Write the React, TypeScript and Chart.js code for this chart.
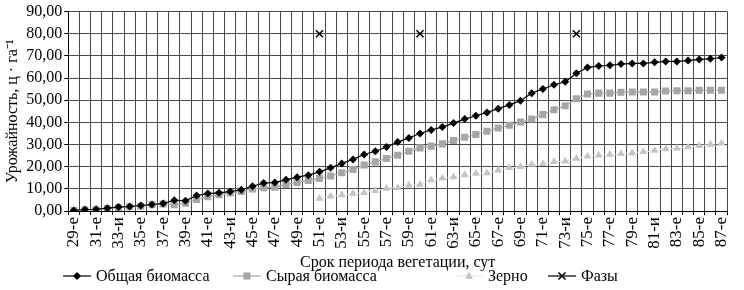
import React, { useEffect, useRef } from "react";
import { Chart, registerables } from "chart.js";

Chart.register(...registerables);

const days = Array.from({ length: 59 }, (_, i) => 29 + i);

const tickLabels = [
  "29-е", "31-е", "33-и", "35-е", "37-е", "39-е", "41-е", "43-и", "45-е", "47-е",
  "49-е", "51-е", "53-и", "55-е", "57-е", "59-е", "61-е", "63-и", "65-е", "67-е",
  "69-е", "71-е", "73-и", "75-е", "77-е", "79-е", "81-и", "83-е", "85-е", "87-е",
];

const totalBiomass = [
  0.3, 0.7, 0.8, 1.3, 1.8, 2.1, 2.5, 2.9, 3.4, 4.9,
  4.6, 7.0, 7.9, 8.2, 8.8, 9.6, 11.2, 12.6, 12.9, 14.1,
  15.3, 16.2, 17.7, 19.5, 21.5, 23.3, 25.5, 27.0, 28.9, 31.1,
  33.0, 35.0, 36.6, 37.9, 39.7, 41.5, 43.0, 44.5, 46.2, 47.9,
  49.8, 53.2, 55.1, 57.0, 58.3, 62.2, 64.8, 65.4, 65.8, 66.3,
  66.6, 66.6, 67.1, 67.5, 67.5, 67.9, 68.4, 68.7, 69.3,
];

const rawBiomass = [
  0.2, 0.5, 0.5, 1.1, 1.6, 1.9, 2.2, 2.8, 3.2, 2.9,
  3.5, 5.2, 6.5, 7.4, 8.2, 8.8, 10.0, 10.5, 10.8, 12.0,
  12.9, 13.8, 14.7, 15.8, 17.3, 18.8, 20.8, 22.2, 23.7, 25.2,
  27.0, 28.5, 29.3, 30.3, 31.8, 33.3, 34.5, 36.0, 37.5, 38.7,
  40.2, 41.5, 43.5, 45.7, 47.5, 50.7, 52.8, 53.2, 53.2, 53.6,
  53.7, 53.7, 53.7, 54.2, 54.3, 54.3, 54.5, 54.5, 54.5,
];

const grain = [
  null, null, null, null, null, null, null, null, null, null,
  null, null, null, null, null, null, null, null, null, null,
  null, null, 5.7, 6.7, 7.2, 7.9, 8.3, 9.2, 10.2, 10.5,
  11.6, 12.0, 14.0, 14.8, 15.4, 16.3, 16.9, 17.2, 18.4, 19.5,
  20.0, 21.0, 21.3, 22.2, 22.5, 23.7, 24.7, 25.2, 25.5, 25.8,
  26.2, 26.7, 27.3, 28.0, 28.3, 28.9, 29.5, 30.0, 30.6,
];

const phaseDays = [51, 60, 74];
const phaseValue = 80;
const phases = days.map((d) => (phaseDays.includes(d) ? phaseValue : null));

const yTicks = [0, 10, 20, 30, 40, 50, 60, 70, 80, 90];

const seriesNames = ["Общая биомасса", "Сырая биомасса", "Зерно", "Фазы"];
const xTitle = "Срок периода вегетации, сут";
const yTitle = "Урожайность, ц · га⁻¹";

const FONT = '"Liberation Serif", "Times New Roman", serif';

function drawMarker(ctx: CanvasRenderingContext2D, style: string, x: number, y: number, r: number, color: string) {
  ctx.save();
  ctx.fillStyle = color;
  ctx.strokeStyle = color;
  ctx.beginPath();
  if (style === "rectRot") {
    ctx.moveTo(x - r, y);
    ctx.lineTo(x, y - r);
    ctx.lineTo(x + r, y);
    ctx.lineTo(x, y + r);
    ctx.closePath();
    ctx.fill();
  } else if (style === "rect") {
    const s = r * Math.SQRT1_2;
    ctx.rect(x - s, y - s, 2 * s, 2 * s);
    ctx.fill();
  } else if (style === "triangle") {
    ctx.moveTo(x, y - r);
    ctx.lineTo(x + r * 0.9, y + r * 0.6);
    ctx.lineTo(x - r * 0.9, y + r * 0.6);
    ctx.closePath();
    ctx.fill();
  } else if (style === "crossRot") {
    const s = r * Math.SQRT1_2;
    ctx.lineWidth = 1.5;
    ctx.moveTo(x - s, y - s);
    ctx.lineTo(x + s, y + s);
    ctx.moveTo(x + s, y - s);
    ctx.lineTo(x - s, y + s);
    ctx.stroke();
  }
  ctx.restore();
}

const legendStarts = [63, 233, 455, 548];

const customLegend = {
  id: "customLegend",
  afterDraw(chart: any) {
    const ctx: CanvasRenderingContext2D = chart.ctx;
    const y = chart.height - 14;
    ctx.save();
    ctx.font = `16px ${FONT}`;
    ctx.textBaseline = "middle";
    ctx.textAlign = "left";
    chart.data.datasets.forEach((ds: any, i: number) => {
      const x0 = legendStarts[i];
      const len = 28;
      if (ds.legendLine) {
        ctx.save();
        ctx.strokeStyle = ds.legendLine;
        ctx.lineWidth = 1.2;
        ctx.beginPath();
        ctx.moveTo(x0, y);
        ctx.lineTo(x0 + len, y);
        ctx.stroke();
        ctx.restore();
      }
      drawMarker(ctx, ds.pointStyle, x0 + len / 2, y, ds.pointRadius, ds.pointBackgroundColor);
      ctx.fillStyle = "#000";
      ctx.fillText(ds.label, x0 + len + 5, y + 1);
    });
    ctx.restore();
  },
};

export default function App() {
  const ref = useRef<HTMLCanvasElement | null>(null);

  useEffect(() => {
    document.body.style.margin = "0";
    const canvas = ref.current;
    if (!canvas) return;
    Chart.defaults.font.family = FONT;
    Chart.defaults.color = "#000";
    const gridColor = "#4a4a4a";
    const chart = new Chart(canvas, {
      type: "line",
      data: {
        labels: days.map(String),
        datasets: [
          {
            label: seriesNames[0],
            data: totalBiomass,
            borderColor: "#000",
            backgroundColor: "#000",
            pointBackgroundColor: "#000",
            pointBorderColor: "#000",
            pointStyle: "rectRot",
            pointRadius: 4,
            borderWidth: 1.2,
            pointBorderWidth: 0,
            order: 1,
            legendLine: "#000",
          } as any,
          {
            label: seriesNames[1],
            data: rawBiomass,
            borderColor: "#a6a6a6",
            backgroundColor: "#a6a6a6",
            pointBackgroundColor: "#a6a6a6",
            pointBorderColor: "#a6a6a6",
            pointStyle: "rect",
            pointRadius: 5,
            borderWidth: 1.2,
            pointBorderWidth: 0,
            order: 2,
            legendLine: "#a6a6a6",
          } as any,
          {
            label: seriesNames[2],
            data: grain,
            borderColor: "#e4e4e4",
            backgroundColor: "#c4c4c4",
            pointBackgroundColor: "#c4c4c4",
            pointBorderColor: "#c4c4c4",
            pointStyle: "triangle",
            pointRadius: 4.5,
            borderWidth: 1,
            pointBorderWidth: 0,
            spanGaps: false,
            order: 3,
            legendLine: "#e8e8e8",
          } as any,
          {
            label: seriesNames[3],
            data: phases,
            borderColor: "#000",
            backgroundColor: "#000",
            pointBackgroundColor: "#000",
            pointBorderColor: "#000",
            pointStyle: "crossRot",
            pointRadius: 5,
            pointBorderWidth: 1.5,
            showLine: false,
            order: 0,
            legendLine: "#000",
          } as any,
        ],
      },
      options: {
        animation: false,
        responsive: false,
        maintainAspectRatio: false,
        devicePixelRatio: 1,
        layout: { padding: { top: 2, right: 6, bottom: 18, left: 3 } },
        plugins: {
          legend: { display: false },
          tooltip: { enabled: false },
        },
        scales: {
          x: {
            type: "category",
            offset: true,
            grid: {
              offset: true,
              color: gridColor,
              lineWidth: 1,
              drawTicks: true,
              tickLength: 4,
              tickColor: "#000",
            },
            border: { color: "#000", width: 1 },
            ticks: {
              autoSkip: false,
              maxRotation: 90,
              minRotation: 90,
              padding: 2,
              font: { size: 17, family: FONT },
              color: "#000",
              callback: (_v: any, i: number) => (i % 2 === 0 ? tickLabels[i / 2] : ""),
            },
            title: {
              display: true,
              text: xTitle,
              font: { size: 16, family: FONT },
              color: "#000",
              padding: { top: 2, bottom: 0 },
            },
          },
          y: {
            min: yTicks[0],
            max: yTicks[yTicks.length - 1],
            afterBuildTicks: (axis: any) => {
              axis.ticks = yTicks.map((v) => ({ value: v }));
            },
            grid: {
              color: gridColor,
              lineWidth: 1,
              drawTicks: true,
              tickLength: 4,
              tickColor: "#000",
            },
            border: { color: "#000", width: 1 },
            ticks: {
              autoSkip: false,
              padding: 2,
              font: { size: 16, family: FONT },
              color: "#000",
              callback: (v: any) => Number(v).toFixed(2).replace(".", ","),
            },
            title: {
              display: true,
              text: yTitle,
              font: { size: 16, family: FONT },
              color: "#000",
              padding: { top: 0, bottom: 2 },
            },
          },
        },
      },
      plugins: [customLegend],
    });
    return () => chart.destroy();
  }, []);

  return (
    <div style={{ width: 744, height: 290 }}>
      <canvas ref={ref} width={744} height={290} style={{ display: "block" }} />
    </div>
  );
}
